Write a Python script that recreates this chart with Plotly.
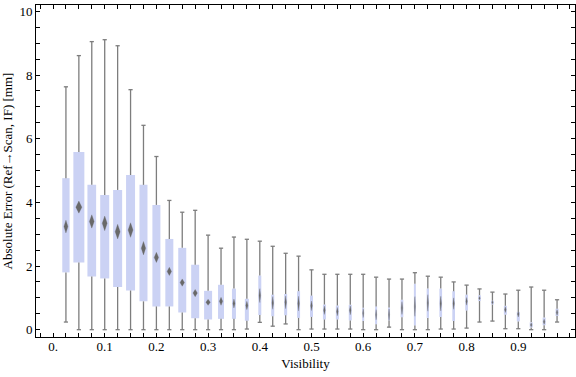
import plotly.graph_objects as go

# Visibility bin centres
visibility = [0.025, 0.05, 0.075, 0.1, 0.125, 0.15, 0.175, 0.2, 0.225, 0.25,
              0.275, 0.3, 0.325, 0.35, 0.375, 0.4, 0.425, 0.45, 0.475, 0.5,
              0.525, 0.55, 0.575, 0.6, 0.625, 0.65, 0.675, 0.7, 0.725, 0.75,
              0.775, 0.8, 0.825, 0.85, 0.875, 0.9, 0.925, 0.95, 0.975]

whisker_high = [7.63, 8.61, 9.05, 9.11, 8.92, 7.54, 6.42, 5.44, 4.06, 3.69,
                3.75, 2.97, 2.56, 2.91, 2.84, 2.78, 2.62, 2.40, 2.31, 1.88,
                1.74, 1.74, 1.74, 1.74, 1.65, 1.59, 1.59, 1.79, 1.68, 1.65,
                1.50, 1.40, 1.28, 1.18, 1.12, 1.24, 1.34, 1.24, 0.94]

q3 = [4.76, 5.58, 4.55, 4.23, 4.39, 4.86, 4.55, 3.92, 2.85, 2.57,
      2.04, 1.22, 1.41, 1.29, 0.97, 1.70, 1.10, 1.12, 1.21, 1.07,
      0.79, 0.76, 0.78, 0.69, 0.73, 0.70, 0.94, 1.44, 1.29, 1.29,
      1.21, 1.10, 1.08, 0.91, 0.75, 0.56, 0.23, 0.38, 0.66]

center = [3.24, 3.85, 3.40, 3.34, 3.08, 3.13, 2.56, 2.27, 1.83, 1.48,
          1.15, 0.86, 0.89, 0.82, 0.76, 1.07, 0.84, 0.86, 0.82, 0.75,
          0.61, 0.57, 0.61, 0.52, 0.47, 0.47, 0.68, 0.73, 0.84, 0.82,
          0.82, 0.89, 0.99, 0.86, 0.63, 0.49, 0.15, 0.25, 0.54]

q1 = [1.80, 2.11, 1.67, 1.61, 1.34, 1.23, 0.89, 0.73, 0.73, 0.54,
      0.36, 0.32, 0.34, 0.34, 0.28, 0.46, 0.42, 0.45, 0.37, 0.40,
      0.32, 0.32, 0.29, 0.27, 0.17, 0.29, 0.39, 0.13, 0.37, 0.40,
      0.27, 0.60, 0.90, 0.79, 0.47, 0.26, 0.07, 0.14, 0.43]

whisker_low = [0.24, 0.0, 0.0, 0.0, 0.0, 0.0, 0.0, 0.0, 0.0, 0.0,
               0.0, 0.0, 0.0, 0.0, 0.02, 0.23, 0.11, 0.18, 0.0, 0.02,
               0.02, 0.02, 0.02, 0.0, 0.0, 0.08, 0.0, 0.0, 0.0, 0.02,
               0.02, 0.05, 0.24, 0.27, 0.03, 0.03, 0.0, 0.0, 0.24]

# half-height of the diamond (confidence band around the centre)
ci_half = [0.20, 0.19, 0.21, 0.23, 0.23, 0.23, 0.21, 0.16, 0.13, 0.115,
           0.115, 0.095, 0.125, 0.14, 0.13, 0.22, 0.20, 0.20, 0.23, 0.15,
           0.13, 0.13, 0.14, 0.14, 0.16, 0.18, 0.20, 0.31, 0.26, 0.23,
           0.18, 0.12, 0.05, 0.05, 0.09, 0.09, 0.06, 0.08, 0.09]

# relative bin weight (drives box width)
bin_weight = [7.3, 11, 8.7, 9, 9, 9, 8, 8, 8, 8,
              8, 8, 6, 4, 4, 3, 3, 3, 3, 3,
              3, 3, 3, 2, 2, 2, 2.7, 2, 2.3, 2.7,
              2.7, 2.7, 2.7, 2.7, 3, 3, 3, 3, 3]

x_tick_vals = [0.0, 0.1, 0.2, 0.3, 0.4, 0.5, 0.6, 0.7, 0.8, 0.9, 1.0]
x_tick_text = ["0.", "0.1", "0.2", "0.3", "0.4", "0.5", "0.6", "0.7", "0.8", "0.9", ""]
y_tick_vals = [0, 2, 4, 6, 8, 10]
y_tick_text = ["0", "2", "4", "6", "8", "10"]

WIDTH_SCALE = 1 / 517.0
BOX_COLOR = "rgb(203,210,244)"
WHISKER_COLOR = "rgb(125,125,125)"
DIAMOND_COLOR = "rgb(105,105,105)"
FONT = "Liberation Serif"

box_w = [w * WIDTH_SCALE for w in bin_weight]

fig = go.Figure()

# boxes
fig.add_trace(go.Bar(
    x=visibility, y=[b - a for a, b in zip(q1, q3)], base=q1, width=box_w,
    marker=dict(color=BOX_COLOR, line=dict(width=0)), hoverinfo="skip",
))

# whiskers (outside the box)
wx, wy = [], []
for x, lo, a, b, hi in zip(visibility, whisker_low, q1, q3, whisker_high):
    wx += [x, x, None, x, x, None]
    wy += [lo, a, None, b, hi, None]
fig.add_trace(go.Scatter(x=wx, y=wy, mode="lines",
                         line=dict(color=WHISKER_COLOR, width=1.3), hoverinfo="skip"))

# caps
fig.add_trace(go.Scatter(
    x=visibility + visibility, y=whisker_low + whisker_high, mode="markers",
    marker=dict(symbol="line-ew", size=3, line=dict(color=WHISKER_COLOR, width=1.3)),
    hoverinfo="skip"))

# diamonds
dx, dy = [], []
for x, c, h, w in zip(visibility, center, ci_half, box_w):
    hw = 0.55 * w / 2
    dx += [x, x + hw, x, x - hw, x, None]
    dy += [c + h, c, c - h, c, c + h, None]
fig.add_trace(go.Scatter(x=dx, y=dy, mode="lines", fill="toself",
                         fillcolor=DIAMOND_COLOR, line=dict(width=0.3, color=DIAMOND_COLOR),
                         hoverinfo="skip"))

axis_common = dict(
    showline=True, linecolor="black", linewidth=1, mirror="ticks",
    ticks="inside", ticklen=4, tickcolor="black", tickwidth=1,
    showgrid=False, zeroline=False, automargin=False,
    tickfont=dict(family=FONT, size=13, color="black"),
)

fig.update_layout(
    width=576, height=377,
    margin=dict(l=36, r=1, t=5, b=40),
    paper_bgcolor="white", plot_bgcolor="white",
    showlegend=False, barmode="overlay",
    xaxis=dict(
        range=[-0.0329, 1.0097], tickmode="array", tickvals=x_tick_vals, ticktext=x_tick_text,
        ticklabelstandoff=-3,
        minor=dict(tickmode="linear", tick0=0, dtick=0.025, ticks="inside", ticklen=4,
                   tickcolor="black"),
        title=dict(text="Visibility", font=dict(family=FONT, size=13, color="black"), standoff=6),
        **axis_common,
    ),
    yaxis=dict(
        range=[-0.23, 10.2], tickmode="array", tickvals=y_tick_vals, ticktext=y_tick_text,
        minor=dict(tickmode="linear", tick0=0, dtick=0.5, ticks="inside", ticklen=4,
                   tickcolor="black"),
        title=dict(text="Absolute Error (Ref\u2192Scan, IF) [mm]",
                   font=dict(family=FONT, size=13, color="black"), standoff=3),
        **axis_common,
    ),
)

fig.write_html(
    "out.html",
    config={"displayModeBar": False},
    post_script="document.body.style.margin='0px';document.body.style.padding='0px';",
)
